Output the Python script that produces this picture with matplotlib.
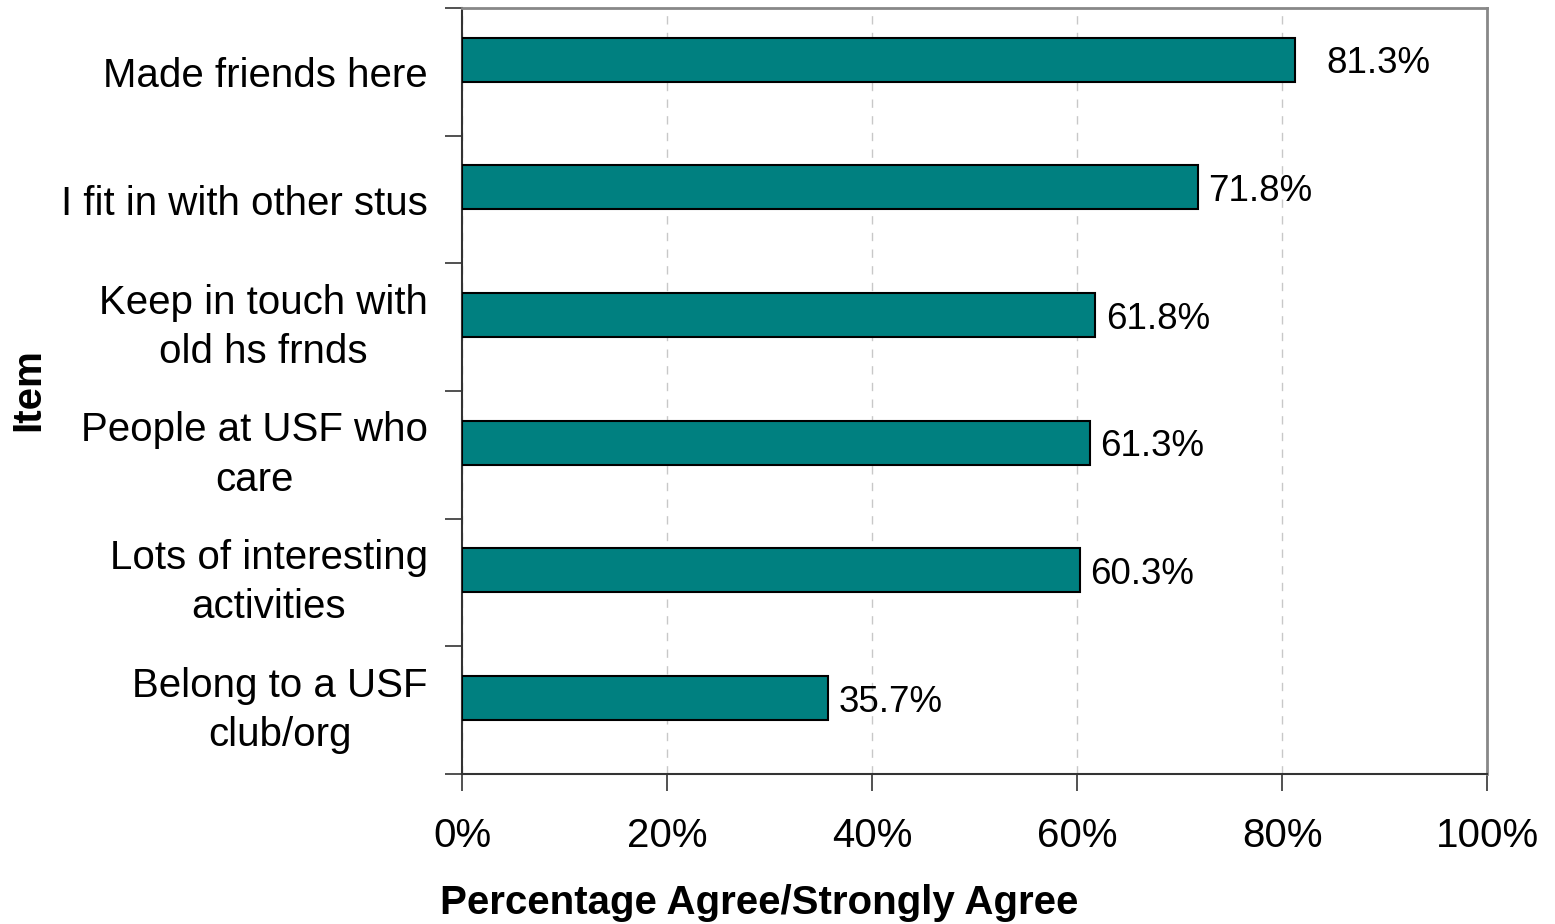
import matplotlib.pyplot as plt
import numpy as np

plt.rcParams["font.family"] = ["Liberation Sans", "DejaVu Sans"]

ITEMS = [
    "Made friends here",
    "I fit in with other stus",
    "Keep in touch with\nold hs frnds",
    "People at USF who\ncare",
    "Lots of interesting\nactivities",
    "Belong to a USF\nclub/org",
]
PCT = [81.3, 71.8, 61.8, 61.3, 60.3, 35.7]
LABELS = ["81.3%", "71.8%", "61.8%", "61.3%", "60.3%", "35.7%"]
XTICKS = [0, 20, 40, 60, 80, 100]

TEAL = "#008080"


def main() -> None:
    fig = plt.figure(figsize=(15.55, 9.24), dpi=100)
    ax = fig.add_axes([0.2971, 0.1623, 0.6592, 0.829])

    y = np.arange(len(ITEMS))
    ax.barh(y - 0.095, PCT, height=0.345, color=TEAL, edgecolor="black", linewidth=1.5, zorder=3)

    pads = [3.0, 1.0, 1.0, 1.0, 1.0, 1.0]
    for yi, v, lab, p in zip(y, PCT, LABELS, pads):
        ax.text(v + p, yi - 0.095, lab, va="center_baseline", ha="left", fontsize=26.5)

    ax.set_xlim(0, 100)
    ax.set_ylim(len(ITEMS) - 0.5, -0.5)

    ax.set_xticks(XTICKS, labels=[f"{t}%" for t in XTICKS], fontsize=29)
    ax.tick_params(axis="x", length=12, width=1.2, direction="out", pad=19, color="#333333")

    ax.set_yticks(y, labels=ITEMS, fontsize=29)
    for t in ax.get_yticklabels():
        t.set_multialignment("center")
        t.set_linespacing(1.38)
        if "\n" in t.get_text():
            t.set_verticalalignment("center")
    ax.tick_params(axis="y", length=0, pad=24.5)
    ax.set_yticks(np.arange(len(ITEMS) + 1) - 0.5, minor=True)
    ax.tick_params(axis="y", which="minor", length=12, width=1.2, color="#333333")

    ax.grid(axis="x", linestyle=(0, (6, 6)), color="#c8c8c8", linewidth=1, zorder=0)

    for side in ("left", "bottom"):
        ax.spines[side].set_color("#333333")
        ax.spines[side].set_linewidth(1.5)
    for side in ("top", "right"):
        ax.spines[side].set_color("#888888")
        ax.spines[side].set_linewidth(2)

    fig.text(0.488, 0.0227, "Percentage Agree/Strongly Agree", fontsize=29,
             fontweight="bold", ha="center", va="center")
    fig.text(0.018, 0.578, "Item", fontsize=29, fontweight="bold",
             rotation=90, ha="center", va="center")

    fig.savefig("out.png", dpi=100)
    plt.close(fig)


if __name__ == "__main__":
    main()
